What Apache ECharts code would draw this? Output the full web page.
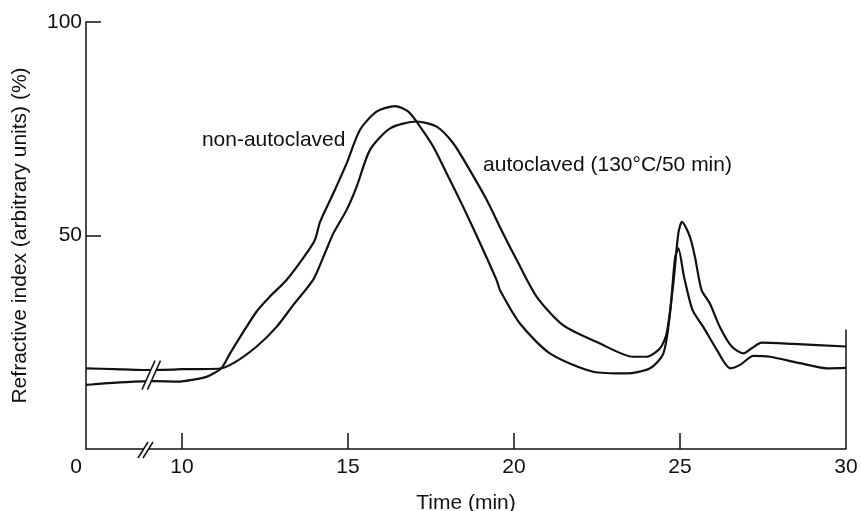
<!DOCTYPE html>
<html><head><meta charset="utf-8">
<script src="https://cdn.jsdelivr.net/npm/echarts@6/dist/echarts.min.js"></script>
<style>html,body{margin:0;padding:0;background:#fff}#c{width:861px;height:511px}</style>
</head><body><div id="c"></div>
<script>
// ---- data (time in min, refractive index in arbitrary units %) ----
const xTickTimes = [0, 10, 15, 20, 25, 30];
const yTickValues = [50, 100];
const seriesNames = ['non-autoclaved', 'autoclaved (130°C/50 min)'];

const nonAutoTime = [0, 1, 2.8, 5, 7, 9.8, 10.3, 10.74, 11.0, 11.2, 11.45, 11.75, 12.25, 12.65, 13.15, 13.65, 14.0, 14.16, 14.56, 14.96, 15.36, 15.86, 16.42, 16.82, 17.17, 17.57, 17.97, 18.47, 18.98, 19.48, 19.58, 20.18, 21.08, 22.39, 23.39, 24.1, 24.5, 24.7, 24.85, 24.95, 25.12, 25.38, 25.7, 26.11, 26.51, 26.81, 27.21, 27.71, 28.61, 29.42, 30];
const nonAutoValue = [15.0, 15.2, 15.5, 15.8, 15.9, 15.8, 16.2, 16.9, 17.9, 19.0, 22.4, 26.2, 32.2, 35.7, 39.6, 44.7, 48.9, 53.2, 59.9, 66.9, 74.7, 79.0, 80.3, 79.0, 75.5, 70.8, 64.6, 56.7, 48.2, 39.5, 37.2, 29.4, 22.4, 18.1, 17.7, 18.9, 22.4, 31.8, 44.7, 47.0, 40.4, 32.5, 28.6, 23.2, 18.9, 19.7, 21.8, 21.6, 20.1, 18.9, 19.0];

const autoTime = [0, 3, 6, 9, 10, 11.1, 11.55, 12.25, 12.85, 13.35, 13.95, 14.26, 14.56, 14.96, 15.26, 15.66, 16.27, 17.07, 17.67, 18.17, 18.67, 19.18, 19.62, 20.08, 20.68, 21.48, 22.59, 23.59, 23.99, 24.4, 24.6, 24.8, 24.95, 25.06, 25.3, 25.45, 25.65, 25.9, 26.2, 26.56, 26.91, 27.16, 27.46, 28.41, 30];
const autoValue = [18.9, 18.7, 18.5, 18.6, 18.7, 18.8, 20.1, 24.0, 28.6, 33.7, 39.6, 45.0, 50.5, 56.0, 61.4, 70.0, 75.1, 76.7, 75.5, 71.6, 65.3, 58.3, 51.3, 44.3, 35.7, 29.0, 24.7, 21.6, 21.6, 23.6, 27.1, 38.8, 50.5, 53.2, 49.7, 45.0, 37.2, 34.1, 28.6, 24.0, 22.4, 23.6, 24.9, 24.6, 24.0];

// ---- broken time axis: 0..10 min is compressed ----
const X0 = 7.11;
function toAxis(t) { return t >= 10 ? t : X0 + t * (10 - X0) / 10; }
function pairs(ts, vs) { return ts.map((t, i) => [toAxis(t), vs[i]]); }

const FONT = "'Liberation Sans', Arial, Helvetica, sans-serif";
const FS = 21;
const INK = '#111';
const labelVals = xTickTimes.map(toAxis);

const chart = echarts.init(document.getElementById('c'), null, {renderer: 'canvas'});
const option = {
  animation: false,
  backgroundColor: '#fff',
  textStyle: {fontFamily: FONT, color: INK},
  grid: {left: 86, right: 15, top: 22, bottom: 62, containLabel: false, outerBoundsMode: 'none'},
  xAxis: {
    type: 'value', min: X0, max: 30,
    name: 'Time (min)', nameLocation: 'middle', nameGap: 44,
    nameTextStyle: {fontFamily: FONT, fontSize: FS, color: INK},
    axisLine: {show: true, lineStyle: {color: INK, width: 1.5}},
    axisTick: {show: true, inside: true, length: 16, customValues: xTickTimes.slice(1, 5).map(toAxis), lineStyle: {color: INK, width: 1.5}},
    axisLabel: {
      customValues: labelVals, margin: 8, fontFamily: FONT, fontSize: FS, color: INK,
      formatter: function (v) {
        const i = labelVals.findIndex(a => Math.abs(a - v) < 1e-6);
        const t = i >= 0 ? xTickTimes[i] : v;
        return t === 0 ? '{z|0}' : String(t);
      },
      rich: {z: {fontFamily: FONT, fontSize: FS, color: INK, padding: [0, 20, 0, 0]}}
    },
    splitLine: {show: false}
  },
  yAxis: {
    type: 'value', min: 0, max: 100,
    name: 'Refractive index (arbitrary units) (%)', nameLocation: 'middle', nameGap: 55,
    nameTextStyle: {fontFamily: FONT, fontSize: FS, color: INK},
    axisLine: {show: true, lineStyle: {color: INK, width: 1.5}},
    axisTick: {show: true, inside: true, length: 15, customValues: yTickValues, lineStyle: {color: INK, width: 1.5}},
    axisLabel: {customValues: yTickValues, margin: 4, fontFamily: FONT, fontSize: FS, color: INK},
    splitLine: {show: false}
  },
  series: [
    {
      name: seriesNames[0], type: 'line', data: pairs(nonAutoTime, nonAutoValue),
      showSymbol: false, smooth: 0.25, lineStyle: {color: INK, width: 2.2}
    },
    {
      name: seriesNames[1], type: 'line', data: pairs(autoTime, autoValue),
      showSymbol: false, smooth: 0.25, lineStyle: {color: INK, width: 2.2},
      markLine: {
        silent: true, symbol: ['none', 'none'], label: {show: false},
        lineStyle: {color: INK, width: 1.5, type: 'solid'},
        data: [[{coord: [30, 0]}, {coord: [30, 28]}]]
      }
    }
  ]
};
chart.setOption(option);

function slashes(cx, cy, dx, dy, sep) {
  const h = sep / 2;
  return [
    {type: 'polygon', silent: true, z: 100, shape: {points: [[cx - h - dx / 2, cy + dy / 2], [cx + h - dx / 2, cy + dy / 2], [cx + h + dx / 2, cy - dy / 2], [cx - h + dx / 2, cy - dy / 2]]}, style: {fill: '#fff', stroke: null}},
    {type: 'line', silent: true, z: 101, shape: {x1: cx - h - dx / 2, y1: cy + dy / 2, x2: cx - h + dx / 2, y2: cy - dy / 2}, style: {stroke: INK, lineWidth: 1.5}},
    {type: 'line', silent: true, z: 101, shape: {x1: cx + h - dx / 2, y1: cy + dy / 2, x2: cx + h + dx / 2, y2: cy - dy / 2}, style: {stroke: INK, lineWidth: 1.5}}
  ];
}
const pAxis = chart.convertToPixel({gridIndex: 0}, [toAxis(6.2), 0]);
const pCurve = chart.convertToPixel({gridIndex: 0}, [toAxis(6.8), 17.3]);
const pNA = chart.convertToPixel({gridIndex: 0}, [toAxis(10.6), 72.4]);
const pAC = chart.convertToPixel({gridIndex: 0}, [toAxis(19.07), 66.5]);

chart.setOption({
  graphic: [].concat(
    slashes(pAxis[0], pAxis[1] + 1, 10, 16, 5),
    slashes(pCurve[0], pCurve[1], 13, 29, 5.5),
    [
      {type: 'text', silent: true, x: pNA[0], y: pNA[1], style: {text: seriesNames[0], font: FS + 'px ' + FONT, fill: INK, verticalAlign: 'middle', align: 'left'}},
      {type: 'text', silent: true, x: pAC[0], y: pAC[1], style: {text: seriesNames[1], font: FS + 'px ' + FONT, fill: INK, verticalAlign: 'middle', align: 'left'}}
    ]
  )
});
</script>
</body></html>
